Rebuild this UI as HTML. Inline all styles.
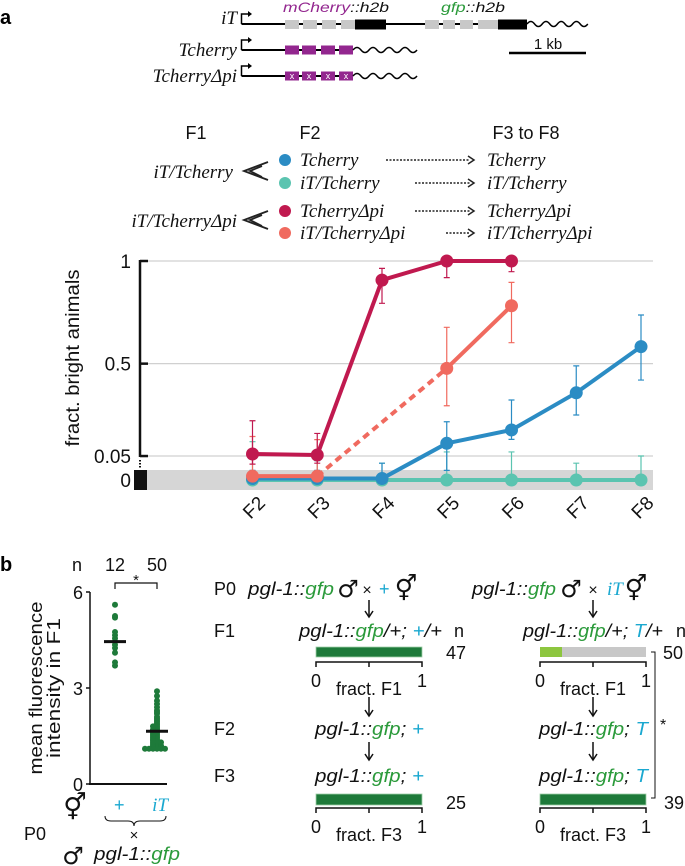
<!DOCTYPE html>
<html><head><meta charset="utf-8"><style>
html,body{margin:0;padding:0;background:#fff;}
svg{display:block;}
.s{font-family:"Liberation Sans",sans-serif;}
.n{font-family:"Liberation Sans Narrow","Liberation Sans",sans-serif;}
.m{font-family:"Liberation Serif",serif;font-style:italic;}
.sym{font-family:"DejaVu Sans",sans-serif;}
</style></head><body>
<svg id="fig" width="685" height="866" viewBox="0 0 685 866" xmlns="http://www.w3.org/2000/svg">
<!-- Panel a: gene diagram -->
<text x="0" y="24" class="s" font-size="20" font-weight="bold">a</text>
<g stroke="#000" fill="none">
  <text x="237" y="24" class="m" font-size="19" text-anchor="end" stroke="none" fill="#111">iT</text>
  <path d="M241.5 24 V14 H250" stroke-width="1.5"/><path d="M248 11 L252 14 L248 17Z" fill="#000" stroke="none"/>
  <line x1="241.5" y1="24" x2="527" y2="24" stroke-width="2"/>
  <g fill="#c8c8c8" stroke="none"><rect x="285" y="20" width="14" height="9"/><rect x="303" y="20" width="14" height="9"/><rect x="322" y="20" width="14" height="9"/><rect x="341" y="20" width="14" height="9"/>
  <rect x="425" y="20" width="14" height="9"/><rect x="443" y="20" width="12" height="9"/><rect x="460" y="20" width="13" height="9"/><rect x="478" y="20" width="20" height="9"/></g>
  <rect x="355" y="19.5" width="31" height="10" fill="#000" stroke="none"/><rect x="498" y="19.5" width="29" height="10" fill="#000" stroke="none"/>
  <path d="M527 24 q3.8 -5 7.6 0 t7.6 0 t7.6 0 t7.6 0 t7.6 0 t7.6 0 t7.6 0 t7.6 0" stroke-width="1.5"/>
  <text x="283" y="12" class="s" font-size="14" font-style="italic" stroke="none" textLength="106" lengthAdjust="spacingAndGlyphs"><tspan fill="#93278f">mCherry</tspan><tspan fill="#111">::h2b</tspan></text>
  <text x="441" y="12" class="s" font-size="14" font-style="italic" stroke="none" textLength="64" lengthAdjust="spacingAndGlyphs"><tspan fill="#2a9a3a">gfp</tspan><tspan fill="#111">::h2b</tspan></text>

  <text x="237" y="56" class="m" font-size="19" text-anchor="end" stroke="none" fill="#111">Tcherry</text>
  <path d="M241.5 50 V40 H250" stroke-width="1.5"/><path d="M248 37 L252 40 L248 43Z" fill="#000" stroke="none"/>
  <line x1="241.5" y1="50" x2="353" y2="50" stroke-width="2"/>
  <g fill="#93278f" stroke="none"><rect x="285" y="45.5" width="14" height="9"/><rect x="302" y="45.5" width="14" height="9"/><rect x="321" y="45.5" width="14" height="9"/><rect x="339" y="45.5" width="14" height="9"/></g>
  <path d="M353 50 q4 -5 8 0 t8 0 t8 0 t8 0 t8 0 t8 0 t8 0 t8 0" stroke-width="1.5"/>

  <text x="237" y="82" class="m" font-size="19" text-anchor="end" stroke="none" fill="#111">TcherryΔpi</text>
  <path d="M241.5 76 V66 H250" stroke-width="1.5"/><path d="M248 63 L252 66 L248 69Z" fill="#000" stroke="none"/>
  <line x1="241.5" y1="76" x2="353" y2="76" stroke-width="2"/>
  <g fill="#93278f" stroke="none"><rect x="285" y="71.5" width="14" height="9"/><rect x="302" y="71.5" width="14" height="9"/><rect x="321" y="71.5" width="14" height="9"/><rect x="339" y="71.5" width="14" height="9"/></g>
  <g class="s" font-size="9" fill="#fff" stroke="none" text-anchor="middle"><text x="292" y="79">x</text><text x="309" y="79">x</text><text x="328" y="79">x</text><text x="346" y="79">x</text></g>
  <path d="M353 76 q4 -5 8 0 t8 0 t8 0 t8 0 t8 0 t8 0 t8 0 t8 0" stroke-width="1.5"/>

  <line x1="509" y1="53" x2="586" y2="53" stroke-width="2.5"/>
  <text x="548" y="49" class="s" font-size="15" text-anchor="middle" stroke="none" fill="#111">1 kb</text>
</g>

<!-- Legend -->
<g>
  <text x="196" y="139" class="s" font-size="18" text-anchor="middle" fill="#111">F1</text>
  <text x="310" y="139" class="s" font-size="18" text-anchor="middle" fill="#111">F2</text>
  <text x="526" y="139" class="s" font-size="18" text-anchor="middle" fill="#111">F3 to F8</text>
  <text x="233" y="178" class="m" font-size="19" text-anchor="end" fill="#111">iT/Tcherry</text>
  <text x="237" y="227" class="m" font-size="19" text-anchor="end" fill="#111">iT/TcherryΔpi</text>
  <g stroke="#222" stroke-width="1.8" fill="none">
    <path d="M268 162 L244 171 L268 180"/><path d="M262 166 L250 171 L262 177"/>
    <path d="M268 211 L244 220 L268 229"/><path d="M262 215 L250 220 L262 226"/>
  </g>
  <circle cx="285" cy="160" r="6" fill="#2b8cc4"/>
  <circle cx="285" cy="183" r="6" fill="#5bc4b0"/>
  <circle cx="285" cy="211" r="6" fill="#c0194f"/>
  <circle cx="285" cy="233" r="6" fill="#f06a5f"/>
  <g class="m" font-size="19" fill="#111">
    <text x="300" y="166">Tcherry</text>
    <text x="300" y="189">iT/Tcherry</text>
    <text x="300" y="217">TcherryΔpi</text>
    <text x="300" y="239">iT/TcherryΔpi</text>
    <text x="487" y="166">Tcherry</text>
    <text x="487" y="189">iT/Tcherry</text>
    <text x="487" y="217">TcherryΔpi</text>
    <text x="487" y="239">iT/TcherryΔpi</text>
  </g>
  <g stroke="#222" stroke-width="1.5" stroke-dasharray="2 1.5">
    <line x1="386" y1="160" x2="470" y2="160"/><line x1="415" y1="183" x2="470" y2="183"/>
    <line x1="415" y1="211" x2="470" y2="211"/><line x1="446" y1="233" x2="470" y2="233"/>
  </g>
  <g fill="none" stroke="#222" stroke-width="1.5">
    <path d="M468 156 L474 160 L468 164"/><path d="M468 179 L474 183 L468 187"/>
    <path d="M468 207 L474 211 L468 215"/><path d="M468 229 L474 233 L468 237"/>
  </g>
</g>

<!-- Chart a -->
<g id="chartA">
  <rect x="134" y="470" width="519" height="20" fill="#d6d6d6"/>
  <rect x="134" y="470" width="13" height="20" fill="#111"/>
  <g id="grid" stroke="#d0d0d0" stroke-width="1.2"></g>
  <line x1="140" y1="260" x2="140" y2="457" stroke="#111" stroke-width="2.5"/>
  <line x1="140" y1="460" x2="140" y2="469" stroke="#111" stroke-width="2" stroke-dasharray="1.5 1.5"/>
  <g id="yticks"></g>
  <text transform="translate(79,358) rotate(-90)" class="s" font-size="19" text-anchor="middle" fill="#111" textLength="177" lengthAdjust="spacingAndGlyphs">fract. bright animals</text>
  <g id="xlabels"></g>
  <g id="series"></g>
</g>

<!-- Panel b -->
<text x="0" y="571" class="s" font-size="20" font-weight="bold">b</text>
<g id="scatterB">
  <text x="77" y="571" class="s" font-size="18" text-anchor="middle" fill="#111">n</text>
  <text x="115" y="571" class="s" font-size="18" text-anchor="middle" fill="#111">12</text>
  <text x="157" y="571" class="s" font-size="18" text-anchor="middle" fill="#111">50</text>
  <path d="M115 589 V583 H157 V589" fill="none" stroke="#111" stroke-width="1.2"/>
  <text x="136" y="585" class="s" font-size="15" text-anchor="middle" fill="#111">*</text>
  <line x1="90" y1="592" x2="90" y2="784" stroke="#111" stroke-width="1.5"/>
  <line x1="89" y1="784" x2="167" y2="784" stroke="#111" stroke-width="2"/>
  <g id="bticks"></g>
  <text transform="translate(42,688) rotate(-90)" class="s" font-size="18" text-anchor="middle" fill="#111" textLength="173" lengthAdjust="spacingAndGlyphs">mean fluorescence</text>
  <text transform="translate(60,688) rotate(-90)" class="s" font-size="18" text-anchor="middle" fill="#111" textLength="140" lengthAdjust="spacingAndGlyphs">intensity in F1</text>
  <g id="bdots"></g>
  <text x="75" y="816" class="sym" font-size="26" text-anchor="middle" fill="#111">⚥</text>
  <text x="119" y="811" class="s" font-size="18" font-style="italic" text-anchor="middle" fill="#1aa8d0">+</text>
  <text x="160" y="811" class="m" font-size="19" text-anchor="middle" fill="#1aa8d0">iT</text>
  <path d="M105 816 q0 5 6 5 h17 q6 0 6 5 q0 -5 6 -5 h20 q6 0 6 -5" fill="none" stroke="#111" stroke-width="1"/>
  <text x="134" y="840" class="s" font-size="15" text-anchor="middle" fill="#111">×</text>
  <text x="24" y="840" class="s" font-size="18" fill="#111">P0</text>
  <text x="73" y="864" class="sym" font-size="24" text-anchor="middle" fill="#111">♂</text>
  <text x="94" y="860" class="s" font-size="18" font-style="italic" fill="#111" textLength="86" lengthAdjust="spacingAndGlyphs">pgl-1::<tspan fill="#2a9a3a">gfp</tspan></text>
</g>

<g class="s" font-size="18" fill="#111">
  <text x="214" y="595">P0</text><text x="214" y="637">F1</text><text x="214" y="735">F2</text><text x="214" y="782">F3</text>
  <text x="248" y="595" font-style="italic" textLength="86" lengthAdjust="spacingAndGlyphs">pgl-1::<tspan fill="#2a9a3a">gfp</tspan></text>
  <text x="348" y="597" class="sym" font-size="24" text-anchor="middle">♂</text><text x="367" y="595" text-anchor="middle" font-size="16">×</text>
  <text x="384" y="595" font-style="italic" fill="#1aa8d0" text-anchor="middle">+</text><text x="406" y="597" class="sym" font-size="25" text-anchor="middle">⚥</text>
  <text x="472" y="595" font-style="italic" textLength="84" lengthAdjust="spacingAndGlyphs">pgl-1::<tspan fill="#2a9a3a">gfp</tspan></text>
  <text x="571" y="597" class="sym" font-size="24" text-anchor="middle">♂</text><text x="593" y="595" text-anchor="middle" font-size="16">×</text>
  <text x="607" y="595" class="m" font-size="19" fill="#1aa8d0">iT</text><text x="636" y="597" class="sym" font-size="25" text-anchor="middle">⚥</text>

  <text x="299" y="637" font-style="italic" textLength="143" lengthAdjust="spacingAndGlyphs">pgl-1::<tspan fill="#2a9a3a">gfp</tspan>/+; <tspan fill="#1aa8d0">+</tspan>/+</text><text x="454" y="637">n</text>
  <text x="523" y="637" font-style="italic" textLength="140" lengthAdjust="spacingAndGlyphs">pgl-1::<tspan fill="#2a9a3a">gfp</tspan>/+; <tspan fill="#1aa8d0">T</tspan>/+</text><text x="676" y="637">n</text>
  <text x="315" y="735" font-style="italic" textLength="109" lengthAdjust="spacingAndGlyphs">pgl-1::<tspan fill="#2a9a3a">gfp</tspan>; <tspan fill="#1aa8d0">+</tspan></text>
  <text x="539" y="735" font-style="italic" textLength="109" lengthAdjust="spacingAndGlyphs">pgl-1::<tspan fill="#2a9a3a">gfp</tspan>; <tspan fill="#1aa8d0">T</tspan></text>
  <text x="315" y="782" font-style="italic" textLength="109" lengthAdjust="spacingAndGlyphs">pgl-1::<tspan fill="#2a9a3a">gfp</tspan>; <tspan fill="#1aa8d0">+</tspan></text>
  <text x="539" y="782" font-style="italic" textLength="109" lengthAdjust="spacingAndGlyphs">pgl-1::<tspan fill="#2a9a3a">gfp</tspan>; <tspan fill="#1aa8d0">T</tspan></text>

  <g stroke="#111" stroke-width="1.5" fill="none">
    <line x1="369" y1="600" x2="369" y2="616"/><path d="M365 611 L369 617 L373 611"/>
    <line x1="593" y1="600" x2="593" y2="616"/><path d="M589 611 L593 617 L597 611"/>
    <line x1="369" y1="697" x2="369" y2="715"/><path d="M365 710 L369 716 L373 710"/>
    <line x1="593" y1="697" x2="593" y2="715"/><path d="M589 710 L593 716 L597 710"/>
    <line x1="369" y1="742" x2="369" y2="759"/><path d="M365 754 L369 760 L373 754"/>
    <line x1="593" y1="742" x2="593" y2="759"/><path d="M589 754 L593 760 L597 754"/>
  </g>

  <rect x="316" y="647" width="106" height="10" fill="#1e7a3a" stroke="#9fcfa8" stroke-width="0.8"/>
  <rect x="540" y="647" width="106" height="10" fill="#c8c8c8"/>
  <rect x="540" y="647" width="22" height="10" fill="#8dc63f"/>
  <rect x="316" y="794" width="106" height="11" fill="#1e7a3a" stroke="#9fcfa8" stroke-width="0.8"/>
  <rect x="540" y="794" width="106" height="11" fill="#1e7a3a" stroke="#9fcfa8" stroke-width="0.8"/>
  <text x="446" y="659">47</text><text x="663" y="659">50</text>
  <text x="446" y="809">25</text><text x="664" y="809">39</text>
  <g stroke="#111" stroke-width="1.5" fill="none">
    <path d="M316 667 V662 H422 V667 M369 662 V667"/>
    <path d="M540 667 V662 H646 V667 M593 662 V667"/>
    <path d="M316 813 V808 H422 V813 M369 808 V813"/>
    <path d="M540 813 V808 H646 V813 M593 808 V813"/>
    <path d="M651 652 H655 V798 H651" stroke-width="1"/>
  </g>
  <text x="316" y="687" text-anchor="middle">0</text><text x="369" y="695" text-anchor="middle">fract. F1</text><text x="422" y="687" text-anchor="middle">1</text>
  <text x="540" y="687" text-anchor="middle">0</text><text x="593" y="695" text-anchor="middle">fract. F1</text><text x="646" y="687" text-anchor="middle">1</text>
  <text x="316" y="833" text-anchor="middle">0</text><text x="369" y="841" text-anchor="middle">fract. F3</text><text x="422" y="833" text-anchor="middle">1</text>
  <text x="540" y="833" text-anchor="middle">0</text><text x="593" y="841" text-anchor="middle">fract. F3</text><text x="646" y="833" text-anchor="middle">1</text>
  <text x="660" y="730" font-size="16">*</text>
</g>
</svg>
<script>
// ---- Chart a data ----
const generations = ['F2','F3','F4','F5','F6','F7','F8'];
const yTickValues = [1, 0.5, 0.05, 0];
const yTickLabels = ['1','0.5','0.05','0'];
const blueVals = [0.003,0.003,0.003,0.112,0.177,0.358,0.583];
const blueHi   = [0.02,0.02,0.035,0.217,0.323,0.489,0.737];
const blueLo   = [0,0,0,0.02,0.131,0.25,0.42];
const tealVals = [0,0,0,0,0,0,0];
const tealHi   = [0.12,0.04,0.035,0.07,0.07,0.035,0.05];
const tealLo   = [0,0,0,0,0,0,0];
const redVals  = [0.06,0.055,0.907,1,1];
const redHi    = [0.222,0.16,0.964,1,1];
const redLo    = [0.033,0.035,0.794,0.919,0.948];
const salmonVals = [0.008,0.008,null,0.477,0.782];
const salmonHi   = [0.145,0.13,null,0.677,0.896];
const salmonLo   = [0,0,null,0.295,0.602];
// ---- Panel b data ----
const plusVals = [5.6,5.25,5.2,4.75,4.65,4.55,4.45,4.35,4.25,4.1,3.8,3.7];
const iTVals = [2.9,2.75,2.6,2.5,2.4,2.3,2.25,2.2,2.1,2.05,2.0,1.95,1.9,1.85,1.8,1.8,1.75,1.7,1.7,1.65,1.65,1.6,1.6,1.55,1.55,1.5,1.5,1.45,1.45,1.4,1.4,1.35,1.35,1.3,1.3,1.3,1.25,1.25,1.2,1.2,1.2,1.15,1.15,1.15,1.1,1.1,1.1,1.1,1.1,1.1];
const groupMeans = [4.45, 1.65];
const bTicks = [0,3,6];

const NS='http://www.w3.org/2000/svg';
function mk(tag, attrs, parent){const e=document.createElementNS(NS,tag);for(const k in attrs)e.setAttribute(k,attrs[k]);parent.appendChild(e);return e;}
function xA(i){return 252.5 + i*64.75;}
function yA(v){return v>=0.05 ? 466.3 - 205.3*v : 480 - 480*v;}

const grid=document.getElementById('grid');
[1,0.5,0.05].forEach(v=>{
  const l=mk('line',{x1:140,x2:653,y1:yA(v),y2:yA(v)},grid);
  
  
});
const yt=document.getElementById('yticks');
yTickValues.forEach((v,i)=>{
  if(v>0){mk('line',{x1:140,x2:148,y1:yA(v),y2:yA(v),stroke:'#111','stroke-width':2.5},yt);}
  const t=mk('text',{x:131,y:yA(v)+7,'text-anchor':'end','font-size':19,fill:'#111','class':'s'},yt);
  t.textContent=yTickLabels[i];
  
  
});
const xl=document.getElementById('xlabels');
generations.forEach((g,i)=>{
  const t=mk('text',{transform:`translate(${xA(i)+6},${512}) rotate(-45)`,'text-anchor':'middle','font-size':19,fill:'#111','class':'s'},xl);
  t.textContent=g;
  
  
});

const ser=document.getElementById('series');
function drawSeries(name,color,vals,hi,lo){
  const g=mk('g',{},ser);
  
  
  vals.forEach((v,i)=>{
    if(v===null)return;
    const eb=mk('path',{d:`M${xA(i)-3} ${yA(hi[i])} H${xA(i)+3} M${xA(i)} ${yA(hi[i])} V${yA(lo[i])} M${xA(i)-3} ${yA(lo[i])} H${xA(i)+3}`,stroke:color,'stroke-width':1.2,fill:'none'},g);
    
    
  });
  let prev=null;
  vals.forEach((v,i)=>{
    if(v===null)return;
    if(prev!==null){
      const dashed = (i-prev)>1;
      mk('line',{x1:xA(prev),y1:yA(vals[prev]),x2:xA(i),y2:yA(v),stroke:color,'stroke-width':4,'stroke-dasharray':dashed?'7 5':'none'},g);
    }
    prev=i;
  });
  vals.forEach((v,i)=>{
    if(v===null)return;
    const c=mk('circle',{cx:xA(i),cy:yA(v),r:6.5,fill:color},g);
    
    
  });
}
drawSeries('it-tcherry','#5bc4b0',tealVals,tealHi,tealLo);
drawSeries('tcherry','#2b8cc4',blueVals,blueHi,blueLo);
drawSeries('it-tcherry-dpi','#f06a5f',salmonVals,salmonHi,salmonLo);
drawSeries('tcherry-dpi','#c0194f',redVals,redHi,redLo);

// Panel b scatter
function yB(v){return 784 - 32*v;}
const bt=document.getElementById('bticks');
bTicks.forEach(v=>{
  mk('line',{x1:86,x2:90,y1:yB(v),y2:yB(v),stroke:'#111','stroke-width':1.5},bt);
  const t=mk('text',{x:83,y:yB(v)+7,'text-anchor':'end','font-size':18,fill:'#111','class':'s'},bt);
  t.textContent=String(v);
  
  
});
const bd=document.getElementById('bdots');
const groupX=[115,157];
[plusVals,iTVals].forEach((arr,gi)=>{
  const counts={};
  arr.forEach(v=>{
    const key=Math.round(v*20);
    counts[key]=(counts[key]||0)+1;
    const k=counts[key]-1;
    const off=(k%2===0?1:-1)*Math.ceil(k/2)*4;
    const c=mk('circle',{cx:groupX[gi]+off,cy:yB(v),r:3,fill:'#1e7a3a'},bd);
    
    
  });
  const m=mk('line',{x1:groupX[gi]-11,x2:groupX[gi]+11,y1:yB(groupMeans[gi]),y2:yB(groupMeans[gi]),stroke:'#111','stroke-width':3},bd);
  
  
});
</script>
</body></html>
